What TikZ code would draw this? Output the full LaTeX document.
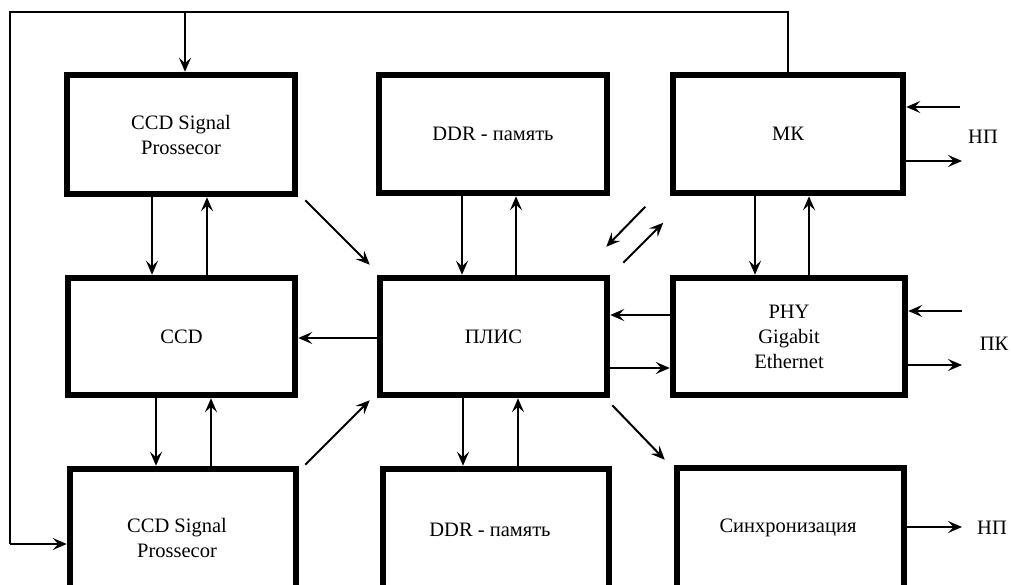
\documentclass[tikz,border=0pt]{standalone}
\usepackage{fontspec}
\setmainfont{Liberation Serif}
\usetikzlibrary{arrows.meta,calc}
\tikzset{
  x=1pt,y=-1pt,
  blk/.style={draw,line width=6.5pt,rectangle,inner sep=0pt,align=center,
    font=\fontsize{20.5}{25}\selectfont},
  txt/.style={inner sep=0pt,align=center,font=\fontsize{20.5}{25}\selectfont},
  conn/.style={line width=2pt},
  arr/.style={conn,-{Stealth[length=14pt,width=12pt,inset=5.5pt]}},
}
\begin{document}
\begin{tikzpicture}
\useasboundingbox (0,0) rectangle (1011,585);
\clip (0,0) rectangle (1011,585);
\fill[white] (0,0) rectangle (1011,585);
% row 1
\node[blk,minimum width=228pt,minimum height=119pt] (b1) at (181,134.5) {CCD Signal\\Prossecor};
\node[blk,minimum width=228pt,minimum height=118pt] (ddr1) at (493,134) {DDR - память};
\node[blk,minimum width=230pt,minimum height=118pt] (mk) at (788,134) {МК};
% row 2
\node[blk,minimum width=227pt,minimum height=117pt] (ccd) at (181.5,336.5) {CCD};
\node[blk,minimum width=227pt,minimum height=117pt] (pl) at (493.5,336.5) {ПЛИС};
\node[blk,minimum width=232pt,minimum height=117pt] (phy) at (789,336.5) {PHY\\Gigabit\\Ethernet};
% row 3 (cut by bottom edge)
\node[blk,minimum width=226pt,minimum height=160pt] (b3) at (183,549) {};
\node[blk,minimum width=226pt,minimum height=160pt] (ddr2) at (496,549) {};
\node[blk,minimum width=227pt,minimum height=160pt] (sync) at (790.5,548) {};
\node[txt] (b3t) at (177,538) {CCD Signal\\Prossecor};
\node[txt] (ddr2t) at (490,530) {DDR - память};
\node[txt] (synct) at (788,528) {Синхронизация};
% side labels
\node[txt] (np1) at (983,137) {НП};
\node[txt] (pk) at (994,344) {ПК};
\node[txt] (np2) at (992,528) {НП};
% feedback loop from MK
\coordinate (t1) at (10,12);
\coordinate (t2) at (10,544);
\draw[conn] (mk.north) -- (mk.north |- t1) -- (t1) -- (t2);
\draw[arr] (t2) -- (b3.west |- t2);
\draw[arr] (185,12) -- (185,0 |- b1.north);
% vertical pairs
\draw[arr] (152,0 |- b1.south) -- (152,0 |- ccd.north);
\draw[arr] (207,0 |- ccd.north) -- (207,0 |- b1.south);
\draw[arr] (156,0 |- ccd.south) -- (156,0 |- b3.north);
\draw[arr] (211,0 |- b3.north) -- (211,0 |- ccd.south);
\draw[arr] (462,0 |- ddr1.south) -- (462,0 |- pl.north);
\draw[arr] (516,0 |- pl.north) -- (516,0 |- ddr1.south);
\draw[arr] (463,0 |- pl.south) -- (463,0 |- ddr2.north);
\draw[arr] (518,0 |- ddr2.north) -- (518,0 |- pl.south);
\draw[arr] (755,0 |- mk.south) -- (755,0 |- phy.north);
\draw[arr] (809,0 |- phy.north) -- (809,0 |- mk.south);
% horizontal
\draw[arr] (pl.west |- 0,338) -- (ccd.east |- 0,338);
\draw[arr] (phy.west |- 0,315) -- (pl.east |- 0,315);
\draw[arr] (pl.east |- 0,368) -- (phy.west |- 0,368);
% diagonals
\draw[arr] ([shift={(7,3)}]b1.south east) -- ([shift={(-7,-10)}]pl.north west);
\draw[arr] ([shift={(6,-1)}]b3.north east) -- ([shift={(-7,2)}]pl.south west);
\draw[arr] ([shift={(2,7)}]pl.south east) -- ([shift={(-9,-5)}]sync.north west);
\draw[arr] ([shift={(35,-68)}]pl.north east) -- ([shift={(-4,-28)}]pl.north east);
\draw[arr] ([shift={(13,-12)}]pl.north east) -- ([shift={(53,-52)}]pl.north east);
% external I/O
\coordinate (mkin) at (960,107);
\coordinate (mkout) at (962,161);
\coordinate (phyin) at (962,311);
\coordinate (phyout) at (962,365);
\coordinate (syncout) at (962,527);
\draw[arr] (mkin) -- (mk.east |- mkin);
\draw[arr] (mk.east |- mkout) -- (mkout);
\draw[arr] (phyin) -- (phy.east |- phyin);
\draw[arr] (phy.east |- phyout) -- (phyout);
\draw[arr] (sync.east |- syncout) -- (syncout);
\end{tikzpicture}
\end{document}
